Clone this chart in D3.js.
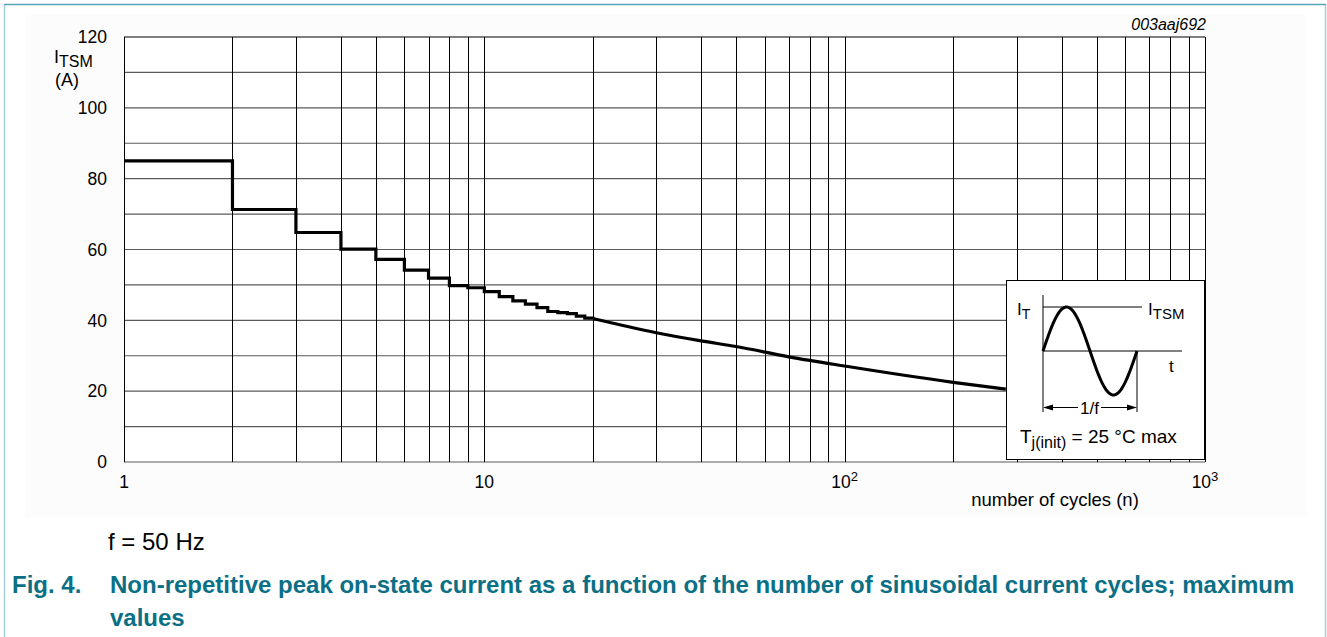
<!DOCTYPE html>
<html>
<head>
<meta charset="utf-8">
<script src="https://cdn.jsdelivr.net/npm/d3@7"></script>
<style>
  html, body { margin: 0; padding: 0; background: #fff; }
  svg { display: block; font-family: "Liberation Sans", Arial, sans-serif; }
</style>
</head>
<body>
<svg id="chart" width="1327" height="637"></svg>
<script>
// Stepped region: peak current (A) held from n cycles up to the next step
const stepCycles = [1, 2, 3, 4, 5, 6, 7, 8, 9, 10, 11, 12, 13, 14, 15, 16, 17, 18, 19, 20];
const stepCurrent = [85, 71.3, 64.8, 60.1, 57.2, 54.2, 51.9, 49.8, 49.2, 48.1, 46.7, 45.5, 44.6, 43.6, 42.5, 42.2, 41.9, 41.2, 40.6, 40.5];

// Continuous region beyond 20 cycles
const smoothCycles = [20, 30, 40, 50, 70, 100, 200, 280];
const smoothCurrent = [40.5, 36.5, 34.2, 32.6, 29.7, 27.1, 22.5, 20.6];

// Axis labels
const yTickValues = [0, 20, 40, 60, 80, 100, 120];
const xTickValues = [1, 10, 100, 1000];
const xTickBase = ["1", "10", "10", "10"];
const xTickExp = ["", "", "2", "3"];

const svg = d3.select("#chart");

const x = d3.scaleLog().domain([1, 1000]).range([124, 1205]);
const y = d3.scaleLinear().domain([0, 120]).range([462, 37]);

// Page frame
svg.append("rect").attr("x", 25).attr("y", 14).attr("width", 1281).attr("height", 503)
  .attr("fill", "#fcfcfc");
svg.append("line").attr("x1", 4.5).attr("x2", 4.5).attr("y1", 4).attr("y2", 637)
  .attr("stroke", "#a6d0db").attr("stroke-width", 1.5);
svg.append("line").attr("x1", 1325.5).attr("x2", 1325.5).attr("y1", 4).attr("y2", 637)
  .attr("stroke", "#a6d0db").attr("stroke-width", 1.5);
svg.append("line").attr("x1", 4).attr("x2", 1326).attr("y1", 4.5).attr("y2", 4.5)
  .attr("stroke", "#5aa5b6").attr("stroke-width", 1.5);

// Plot background
svg.append("rect").attr("x", x(1)).attr("y", y(120))
  .attr("width", x(1000) - x(1)).attr("height", y(0) - y(120)).attr("fill", "#fff");

// Horizontal grid every 10 A
const grid = svg.append("g");
grid.selectAll("line.h").data(d3.range(0, 121, 10)).join("line")
  .attr("class", "h")
  .attr("x1", x(1)).attr("x2", x(1000))
  .attr("y1", d => y(d)).attr("y2", d => y(d))
  .attr("stroke", d => (d === 120 ? "#000" : "#5a5a5a")).attr("stroke-width", 1.2);

// Vertical grid at every log tick
grid.selectAll("line.v").data(x.ticks()).join("line")
  .attr("class", "v")
  .attr("x1", d => Math.round(x(d)) + 0.5).attr("x2", d => Math.round(x(d)) + 0.5)
  .attr("y1", y(120)).attr("y2", y(0))
  .attr("stroke", "#000").attr("stroke-width", 1);

// Y tick labels
svg.append("g").selectAll("text").data(yTickValues).join("text")
  .attr("x", 107).attr("y", d => y(d)).attr("dy", "0.36em")
  .attr("text-anchor", "end").attr("font-size", 17.5).attr("fill", "#000")
  .text(d => d);

// X tick labels with superscript exponents
const xl = svg.append("g").selectAll("text").data(xTickValues).join("text")
  .attr("x", d => x(d)).attr("y", 488)
  .attr("text-anchor", "middle").attr("font-size", 17.5).attr("fill", "#000");
xl.append("tspan").text((d, i) => xTickBase[i]);
xl.append("tspan").attr("dy", -7).attr("font-size", 13).text((d, i) => xTickExp[i]);

// Axis titles
const yt = svg.append("text").attr("x", 54).attr("y", 63).attr("font-size", 18);
yt.append("tspan").text("I");
yt.append("tspan").attr("dy", 4).attr("font-size", 16).text("TSM");
svg.append("text").attr("x", 55).attr("y", 86).attr("font-size", 18).text("(A)");

svg.append("text").attr("x", 1055).attr("y", 506).attr("text-anchor", "middle")
  .attr("font-size", 18.5).text("number of cycles (n)");

svg.append("text").attr("x", 1206).attr("y", 30).attr("text-anchor", "end")
  .attr("font-size", 16).attr("font-style", "italic").text("003aaj692");

// Stepped current curve
const stepData = stepCycles.map((n, i) => ({ n, v: stepCurrent[i] }));
const smoothData = smoothCycles.map((n, i) => ({ n, v: smoothCurrent[i] }));

svg.append("path").datum(stepData)
  .attr("fill", "none").attr("stroke", "#000").attr("stroke-width", 3.2)
  .attr("d", d3.line().x(d => x(d.n)).y(d => y(d.v)).curve(d3.curveStepAfter));

svg.append("path").datum(smoothData)
  .attr("fill", "none").attr("stroke", "#000").attr("stroke-width", 3.2)
  .attr("d", d3.line().x(d => x(d.n)).y(d => y(d.v)).curve(d3.curveMonotoneX));

// Inset: waveform sketch of one sinusoidal current cycle
const inset = svg.append("g");
inset.append("rect").attr("x", 1006.5).attr("y", 280.5).attr("width", 198).attr("height", 179)
  .attr("fill", "#fff").attr("stroke", "#000").attr("stroke-width", 1);

const ix0 = 1043, period = 94, base = 351, amp = 44;
inset.append("line").attr("x1", ix0).attr("x2", ix0).attr("y1", 295).attr("y2", 412)
  .attr("stroke", "#000").attr("stroke-width", 1);
inset.append("line").attr("x1", ix0 + period).attr("x2", ix0 + period).attr("y1", base).attr("y2", 412)
  .attr("stroke", "#000").attr("stroke-width", 1);
inset.append("line").attr("x1", ix0).attr("x2", 1182).attr("y1", base).attr("y2", base)
  .attr("stroke", "#000").attr("stroke-width", 1);
inset.append("line").attr("x1", ix0).attr("x2", 1142).attr("y1", base - amp).attr("y2", base - amp)
  .attr("stroke", "#000").attr("stroke-width", 1);

const phase = d3.range(0, 1.0001, 0.01);
inset.append("path").datum(phase)
  .attr("fill", "none").attr("stroke", "#000").attr("stroke-width", 3)
  .attr("d", d3.line().x(p => ix0 + p * period).y(p => base - amp * Math.sin(2 * Math.PI * p)));

// 1/f dimension arrow
const ay = 407.5;
inset.append("line").attr("x1", ix0 + 8).attr("x2", 1078).attr("y1", ay).attr("y2", ay)
  .attr("stroke", "#000").attr("stroke-width", 1);
inset.append("line").attr("x1", 1101).attr("x2", ix0 + period - 8).attr("y1", ay).attr("y2", ay)
  .attr("stroke", "#000").attr("stroke-width", 1);
inset.append("path").attr("fill", "#000")
  .attr("d", `M${ix0},${ay} l10,-3 l0,6 Z`);
inset.append("path").attr("fill", "#000")
  .attr("d", `M${ix0 + period},${ay} l-10,-3 l0,6 Z`);
inset.append("text").attr("x", 1089.5).attr("y", ay).attr("dy", "0.36em")
  .attr("text-anchor", "middle").attr("font-size", 17).text("1/f");

const it = inset.append("text").attr("x", 1017).attr("y", 315).attr("font-size", 17);
it.append("tspan").text("I");
it.append("tspan").attr("dy", 4).attr("font-size", 14).text("T");
const its = inset.append("text").attr("x", 1148).attr("y", 315).attr("font-size", 17);
its.append("tspan").text("I");
its.append("tspan").attr("dy", 4).attr("font-size", 15).text("TSM");
inset.append("text").attr("x", 1169).attr("y", 372).attr("font-size", 17).text("t");

const tj = inset.append("text").attr("x", 1020).attr("y", 443).attr("font-size", 19);
tj.append("tspan").text("T");
tj.append("tspan").attr("dy", 5).attr("font-size", 16).text("j(init)");
tj.append("tspan").attr("dy", -5).text(" = 25 °C max");

// Notes and caption
svg.append("text").attr("x", 108).attr("y", 550).attr("font-size", 24).text("f = 50 Hz");

const capColor = "#0b7085";
svg.append("text").attr("x", 12).attr("y", 593).attr("font-size", 24).attr("font-weight", "bold")
  .attr("fill", capColor).text("Fig. 4.");
svg.append("text").attr("x", 110).attr("y", 593).attr("font-size", 24).attr("font-weight", "bold")
  .attr("fill", capColor)
  .text("Non-repetitive peak on-state current as a function of the number of sinusoidal current cycles; maximum");
svg.append("text").attr("x", 110).attr("y", 626).attr("font-size", 24).attr("font-weight", "bold")
  .attr("fill", capColor).text("values");
</script>
</body>
</html>
